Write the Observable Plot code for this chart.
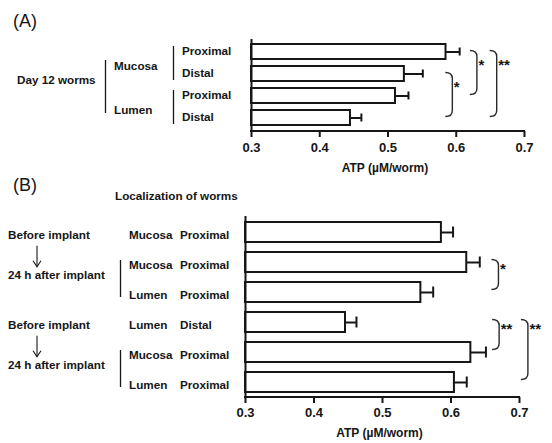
<!DOCTYPE html>
<html><head><meta charset="utf-8">
<script src="https://cdn.jsdelivr.net/npm/d3@7"></script>
<script src="https://cdn.jsdelivr.net/npm/@observablehq/plot@0.6"></script>
<style>
body{margin:0;background:#fff;}
#wrap{position:relative;width:552px;height:443px;overflow:hidden;}
#wrap svg{position:absolute;left:0;}
</style></head><body><div id="wrap"></div>
<script>
const FONT = '"Liberation Sans", Arial, Helvetica, sans-serif';
const INK = "#161616";

// shared axis
const xTicks = [0.3, 0.4, 0.5, 0.6, 0.7];
const xLabel = "ATP (µM/worm)";

// Panel A
const aCondition = ["Day 12 worms", "Day 12 worms", "Day 12 worms", "Day 12 worms"];
const aLocation = ["Mucosa", "Mucosa", "Lumen", "Lumen"];
const aSite = ["Proximal", "Distal", "Proximal", "Distal"];
const aMean = [0.585, 0.524, 0.511, 0.445];
const aErr = [0.020, 0.027, 0.019, 0.016];
const aBracketFrom = [0, 1, 0];
const aBracketTo = [2, 3, 3];
const aBracketX = [0.631, 0.595, 0.660];
const aBracketLabel = ["*", "*", "**"];

// Panel B
const bTitle = "Localization of worms";
const bTreatment = ["Before implant", "24 h after implant", "24 h after implant", "Before implant", "24 h after implant", "24 h after implant"];
const bLocation = ["Mucosa", "Mucosa", "Lumen", "Lumen", "Mucosa", "Lumen"];
const bSite = ["Proximal", "Proximal", "Proximal", "Distal", "Proximal", "Proximal"];
const bMean = [0.586, 0.623, 0.556, 0.446, 0.629, 0.605];
const bErr = [0.017, 0.019, 0.018, 0.016, 0.022, 0.018];
const bBracketFrom = [1, 3, 3];
const bBracketTo = [2, 4, 5];
const bBracketX = [0.670, 0.671, 0.713];
const bBracketLabel = ["*", "**", "**"];

function runs(arr) {
  const out = [];
  arr.forEach((v, i) => {
    if (out.length && out[out.length - 1].v === v) out[out.length - 1].end = i;
    else out.push({v, start: i, end: i});
  });
  return out;
}

function panel(o) {
  const rows = o.mean.map((m, i) => ({i, mean: m, hi: m + o.err[i]}));
  const xMin = xTicks[0], xMax = xTicks[xTicks.length - 1];
  const svg = Plot.plot({
    width: 552, height: o.height,
    marginTop: o.marginTop, marginBottom: o.marginBottom,
    marginLeft: o.marginLeft, marginRight: o.marginRight,
    style: {fontFamily: FONT, fontSize: "13px", fontWeight: "bold", color: INK, background: "transparent", overflow: "visible"},
    x: {domain: [xMin, xMax]},
    y: {type: "band", domain: rows.map(d => d.i), paddingInner: o.paddingInner, paddingOuter: o.paddingOuter, axis: null},
    marks: [
      Plot.barX(rows, {y: "i", x1: () => xMin, x2: "mean", fill: "white", stroke: "currentColor", strokeWidth: 2}),
      Plot.ruleY(rows, {y: "i", x1: "mean", x2: "hi", strokeWidth: 2}),
      Plot.tickX(rows, {y: "i", x: "hi", strokeWidth: 2, insetTop: o.capInset, insetBottom: o.capInset}),
      Plot.ruleX([xMin], {strokeWidth: 2}),
      Plot.axisX({ticks: xTicks, tickSize: 6, tickPadding: o.tickPadding, tickFormat: d3.format(".1f"), fontSize: 13, fontWeight: "bold", strokeWidth: 2, label: null}),
      Plot.text([xLabel], {frameAnchor: "bottom", dy: o.labelDy, dx: -3, fontSize: 12, fontWeight: "bold"})
    ]
  });
  svg.style.top = o.top + "px";
  const xs = svg.scale("x"), ys = svg.scale("y");
  const bw = ys.bandwidth;
  const cy = i => ys.apply(i) + bw / 2;
  const g = d3.select(svg).append("g")
    .attr("font-family", FONT).attr("font-weight", "bold").attr("font-size", 11.7)
    .attr("text-anchor", "start")
    .attr("fill", INK).attr("stroke", "none");
  // bottom axis line
  g.append("line")
    .attr("x1", xs.apply(xMin) - 1).attr("x2", xs.apply(xMax) + 1)
    .attr("y1", o.height - o.marginBottom).attr("y2", o.height - o.marginBottom)
    .attr("stroke", INK).attr("stroke-width", 2);
  // brackets
  o.bFrom.forEach((f, k) => {
    const t = o.bTo[k];
    const xr = xs.apply(o.bX[k]);
    const y1 = cy(f) + o.bracketShift, y2 = cy(t) + o.bracketShift;
    const w = 7, r = 6;
    g.append("path")
      .attr("d", `M${xr - w},${y1} Q${xr},${y1} ${xr},${y1 + r} L${xr},${y2 - r} Q${xr},${y2} ${xr - w},${y2}`)
      .attr("fill", "none").attr("stroke", "#2a2a2a").attr("stroke-width", 1.4);
    g.append("text").attr("x", xr + 1.5).attr("y", y1 + o.starDy)
      .attr("font-size", 15).text(o.bLabel[k]);
  });
  return {svg, g, cy};
}

const wrap = document.getElementById("wrap");

// ---------- Panel A ----------
{
  const {svg, g, cy} = panel({
    top: 0, height: 180, marginTop: 39, marginBottom: 49, marginLeft: 251, marginRight: 28,
    paddingInner: 0.3, paddingOuter: 0.2, capInset: 3.5, tickPadding: 5, labelDy: 40,
    mean: aMean, err: aErr,
    bFrom: aBracketFrom, bTo: aBracketTo, bX: aBracketX, bLabel: aBracketLabel,
    bracketShift: -1, starDy: 19
  });
  g.append("text").attr("x", 13).attr("y", 27).attr("font-size", 18).attr("font-weight", "normal").text("(A)");
  aSite.forEach((s, i) => g.append("text").attr("x", 182).attr("y", cy(i) + 3).text(s));
  const locRuns = runs(aLocation);
  const locCenters = [];
  locRuns.forEach(r => {
    const mid = (cy(r.start) + cy(r.end)) / 2;
    const c = mid + 3.5;
    locCenters.push(c);
    g.append("text").attr("x", 114).attr("y", c + 4).text(r.v);
    g.append("line").attr("x1", 173.5).attr("x2", 173.5)
      .attr("y1", cy(r.start) - 5.5).attr("y2", cy(r.end) + 6.5)
      .attr("stroke", INK).attr("stroke-width", 1.3);
  });
  runs(aCondition).forEach(r => {
    const mid = (cy(r.start) + cy(r.end)) / 2;
    g.append("text").attr("x", 17).attr("y", mid - 0.5).text(r.v);
    g.append("line").attr("x1", 105.5).attr("x2", 105.5)
      .attr("y1", locCenters[0] - 6).attr("y2", locCenters[locCenters.length - 1] + 3)
      .attr("stroke", INK).attr("stroke-width", 1.3);
  });
  wrap.appendChild(svg);
}

// ---------- Panel B ----------
{
  const {svg, g, cy} = panel({
    top: 180, height: 263, marginTop: 36, marginBottom: 46, marginLeft: 245, marginRight: 33,
    paddingInner: 0.34, paddingOuter: 0.137, capInset: 4.5, tickPadding: 4, labelDy: 39,
    mean: bMean, err: bErr,
    bFrom: bBracketFrom, bTo: bBracketTo, bX: bBracketX, bLabel: bBracketLabel,
    bracketShift: -2.5, starDy: 14
  });
  g.append("text").attr("x", 13).attr("y", 11).attr("font-size", 18).attr("font-weight", "normal").text("(B)");
  g.append("text").attr("x", 115).attr("y", 20).text(bTitle);
  bLocation.forEach((s, i) => g.append("text").attr("x", 129).attr("y", cy(i) + 7).text(s));
  bSite.forEach((s, i) => g.append("text").attr("x", 180).attr("y", cy(i) + 7).text(s));
  const tr = runs(bTreatment);
  const centers = tr.map(r => {
    const mid = (cy(r.start) + cy(r.end)) / 2;
    return r.start === r.end ? mid + 2.7 : mid - 2.2;
  });
  tr.forEach((r, k) => {
    g.append("text").attr("x", 8).attr("y", centers[k] + 4).text(r.v);
    if (r.end > r.start) {
      g.append("line").attr("x1", 120.5).attr("x2", 120.5)
        .attr("y1", cy(r.start) - 2).attr("y2", cy(r.end) + 5)
        .attr("stroke", INK).attr("stroke-width", 1.3);
    }
    if (k > 0 && tr[k - 1].start === tr[k - 1].end && r.end > r.start) {
      const ya = centers[k - 1] + 11, yb = centers[k] - 8;
      g.append("line").attr("x1", 37).attr("x2", 37).attr("y1", ya).attr("y2", yb)
        .attr("stroke", INK).attr("stroke-width", 1.1);
      g.append("path").attr("d", `M33,${yb - 6} L37,${yb} L41,${yb - 6}`)
        .attr("fill", "none").attr("stroke", INK).attr("stroke-width", 1.1);
    }
  });
  wrap.appendChild(svg);
}
</script>
</body></html>
